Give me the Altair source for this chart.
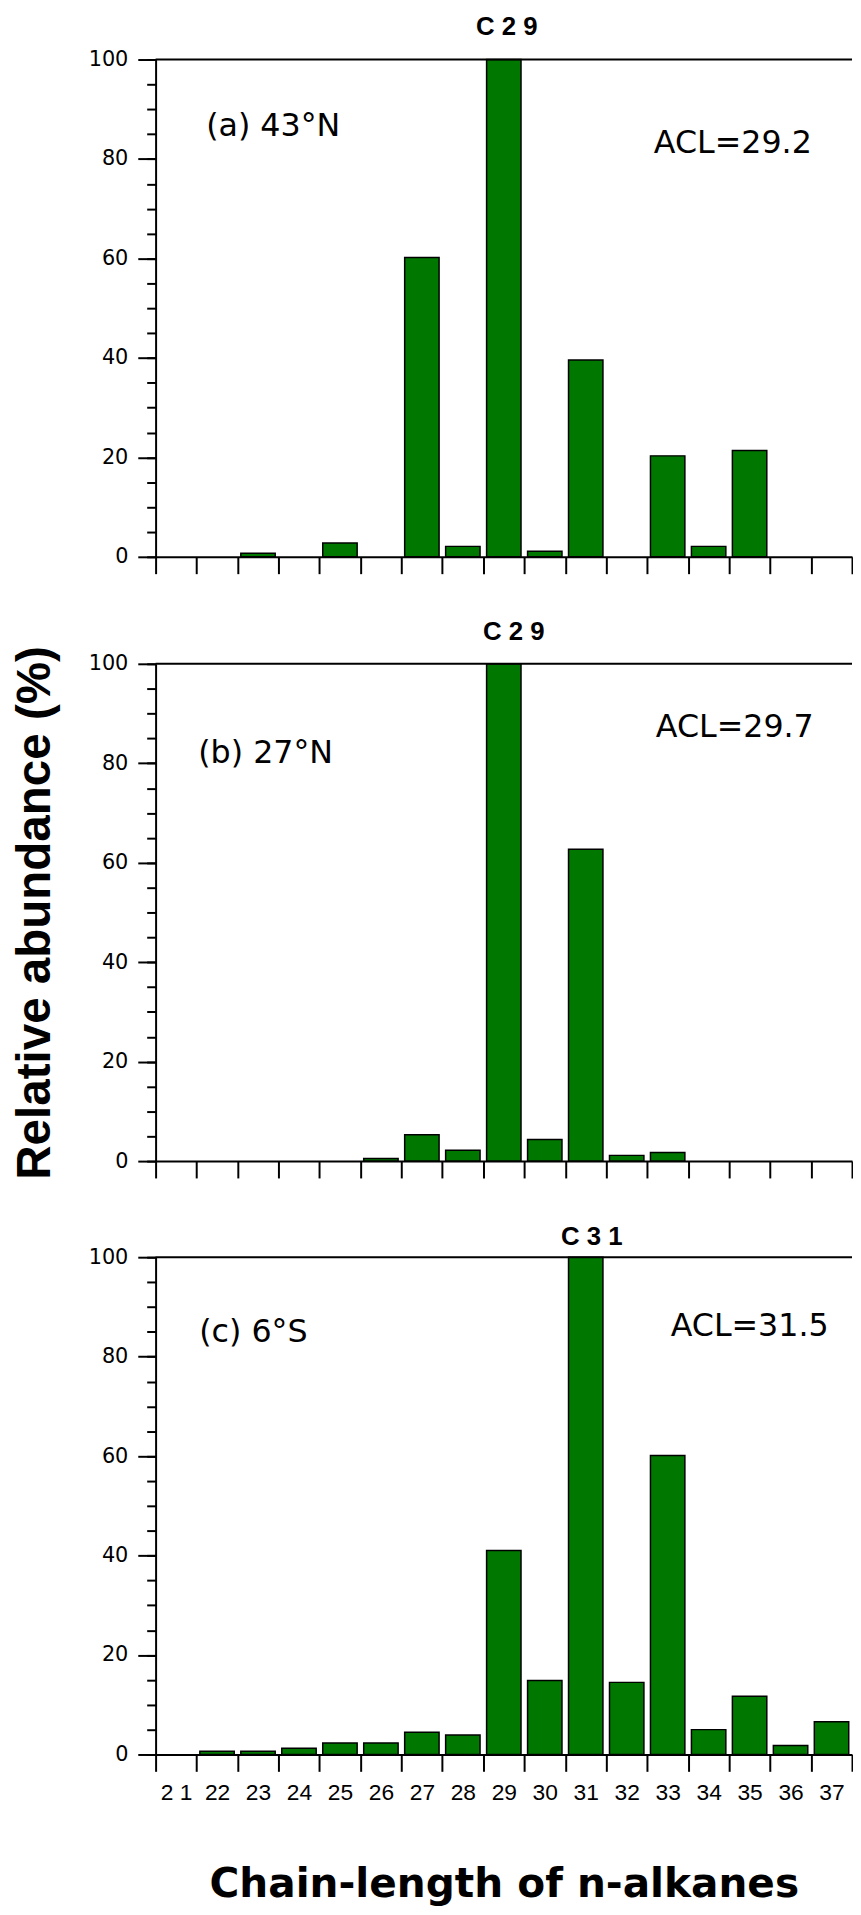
import altair as alt
import pandas as pd

# ---- data ----
tick_labels = ["2 1", "22", "23", "24", "25", "26", "27", "28", "29",
               "30", "31", "32", "33", "34", "35", "36", "37"]
abund_a = [0, 0, 0.7, 0, 2.8, 0, 60.2, 2.1, 100, 1.1, 39.6, 0, 20.3, 2.1, 21.4, 0, 0]
abund_b = [0, 0, 0, 0, 0, 0.5, 5.3, 2.2, 100, 4.35, 62.7, 1.15, 1.75, 0, 0, 0, 0]
abund_c = [0, 0.65, 0.65, 1.25, 2.3, 2.3, 4.45, 3.9, 41.0, 14.9, 100, 14.5, 60.1, 5.0, 11.7, 1.8, 6.6]

site_labels = ["(a) 43°N", "(b) 27°N", "(c) 6°S"]
site_label_y = [84.6, 80.0, 83.0]
acl_labels = ["ACL=29.2", "ACL=29.7", "ACL=31.5"]
acl_label_y = [81.3, 85.2, 84.2]
peak_labels = ["C 2 9", "C 2 9", "C 3 1"]
peak_chain = ["29", "29", "31"]
peak_label_y = [105.0, 104.8, 102.4]

y_major = [0, 20, 40, 60, 80, 100]
y_minor = list(range(0, 101, 5))

GREEN = "#007800"
W, H = 703, 502

xscale = alt.Scale(domain=tick_labels, paddingInner=0, paddingOuter=0)
yscale = alt.Scale(domain=[0, 100], nice=False, zero=True)


def panel(values, idx, site_dx, acl_dx, peak_dx, bottom, y_title):
    df = pd.DataFrame({"chain": tick_labels, "abundance": values})
    x_axis = alt.Axis(
        tickBand="extent", tickSize=17, tickWidth=2, domainWidth=2,
        labels=bottom, labelAngle=0, labelFont="Liberation Sans", labelFontSize=23,
        labelPadding=10,
        title="Chain-length of n-alkanes" if bottom else None,
        titleFont="DejaVu Sans", titleFontSize=41, titleFontWeight="bold",
        titlePadding=61,
    )
    y_axis = alt.Axis(
        values=y_major, tickSize=18, tickWidth=2, domainWidth=2, grid=False,
        labelFont="DejaVu Sans", labelFontSize=21, labelPadding=10,
        title=y_title if y_title else None,
        titleFont="Liberation Sans", titleFontSize=48, titleFontWeight="bold",
        titlePadding=29,
    )
    bars = alt.Chart(df).transform_filter("datum.abundance > 0").mark_bar(
        fill=GREEN, stroke="black", strokeWidth=1.5, width=alt.RelativeBandSize(0.84)
    ).encode(
        x=alt.X("chain:N", scale=xscale, axis=x_axis),
        y=alt.Y("abundance:Q", scale=yscale, axis=y_axis),
    )
    frame = alt.Chart(pd.DataFrame({"top": [100]})).mark_rule(
        color="black", strokeWidth=2
    ).encode(
        y=alt.Y("top:Q", scale=yscale, axis=alt.Axis(
            values=y_minor, tickSize=9, tickWidth=2, labels=False, domain=False,
            grid=False, title=None, orient="left")),
    )

    def txt(text, chain, yv, font, size, weight, align, dx):
        d = pd.DataFrame({"chain": [chain], "y": [yv], "t": [text]})
        return alt.Chart(d).mark_text(
            font=font, fontSize=size, fontWeight=weight, align=align,
            baseline="alphabetic", dx=dx, color="black"
        ).encode(
            x=alt.X("chain:N", scale=xscale, axis=None),
            y=alt.Y("y:Q", scale=yscale, axis=None),
            text="t:N",
        )

    site = txt(site_labels[idx], "22", site_label_y[idx], "DejaVu Sans", 32, "normal", "left", site_dx)
    acl = txt(acl_labels[idx], "33", acl_label_y[idx], "DejaVu Sans", 32, "normal", "left", acl_dx)
    peak = txt(peak_labels[idx], peak_chain[idx], peak_label_y[idx], "Liberation Sans", 26, "bold", "center", peak_dx)

    return alt.layer(bars, frame, site, acl, peak).resolve_axis(
        x="independent", y="independent"
    ).properties(width=W, height=H)


pa = panel(abund_a, 0, -11, -14, 3, False, None)
pb = panel(abund_b, 1, -19, -12, 10, False, "Relative abundance (%)")
pc = panel(abund_c, 2, -18, 3, 6, True, None)

chart = alt.vconcat(pa, pb, pc, spacing=44).properties(
    padding={"top": -4, "left": 3, "right": 0, "bottom": 0}
).configure_view(stroke=None).configure_axis(
    labelColor="black", tickColor="black", domainColor="black", titleColor="black"
)

chart.save("out.html", embed_options={"renderer": "svg", "actions": False})
